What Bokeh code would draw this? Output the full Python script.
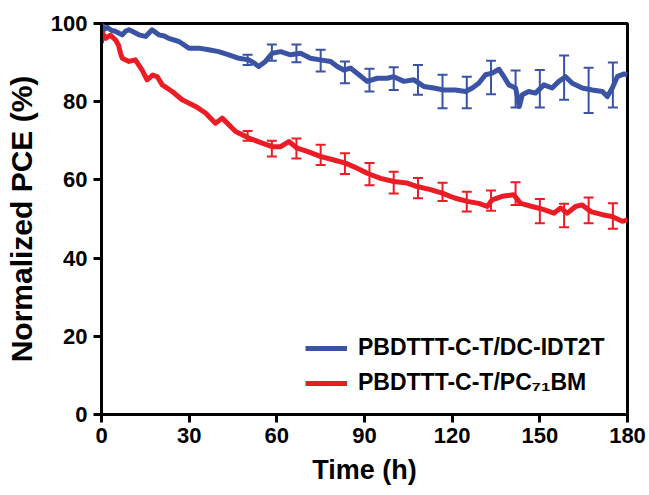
from bokeh.plotting import figure
from bokeh.models import ColumnDataSource, Whisker, TeeHead, Range1d, Legend, LegendItem
from bokeh.embed import file_html
from bokeh.resources import INLINE

# ---- data ----
blue_t = [0, 0.3, 0.8, 2, 3.5, 4.8, 6, 7.1, 8.2, 9.4,
          11, 12.8, 15.1, 17.3, 19.6, 21.5, 23, 26.5, 29.9, 33.3,
          36.7, 40.1, 43.6, 47, 50.4, 52, 53.8, 56.1, 58.4, 61.3,
          64.7, 68.1, 71.5, 74.9, 78.4, 80.7, 82.9, 85.2, 88.1, 90.9,
          94.4, 97.8, 100, 103.5, 106.9, 110.3, 113.7, 117.1, 121.1, 124.6,
          126.9, 129.1, 131.4, 133.7, 136, 137.7, 139.4, 141.7, 143, 144,
          146.2, 148.5, 151.4, 154.2, 156.5, 158.8, 161.1, 164.5, 167.9, 171.4,
          173.1, 174.8, 176.5, 178.8, 180]
blue_v = [95.0, 99.5, 98.4, 99.0, 98.2, 98.0, 97.5, 97.1, 98.0, 98.4,
          97.8, 97.1, 96.7, 98.4, 97.1, 96.8, 96.2, 95.4, 93.7, 93.7,
          93.3, 92.8, 92.0, 91.1, 90.7, 90.0, 89.0, 90.3, 92.4, 92.8,
          92.0, 92.4, 91.1, 90.7, 90.3, 89.0, 88.1, 88.6, 86.9, 85.2,
          86.0, 86.0, 86.4, 85.2, 85.6, 83.9, 83.5, 83.0, 83.0, 82.6,
          83.5, 84.7, 86.9, 87.3, 88.3, 86.4, 84.3, 83.5, 78.8, 81.8,
          82.6, 82.2, 84.3, 83.5, 85.2, 86.4, 84.7, 83.5, 83.0, 82.6,
          81.3, 83.5, 86.4, 87.1, 86.9]

red_t = [0, 1.4, 3, 4.8, 5.8, 6.5, 7.1, 9.4, 11.6, 13.9,
         15.6, 17.5, 19.1, 20.8, 24.2, 27.6, 32.2, 35.6, 39, 41.3,
         45.9, 50.4, 55, 58.4, 61.3, 64.1, 67, 70.4, 74.9, 79.5,
         83.5, 87.5, 90.9, 95.5, 100, 104.6, 108, 112.6, 116.6, 119.4,
         121.1, 125.2, 129.1, 132, 133.7, 137.1, 141.1, 143.4, 147.4, 151.4,
         154.8, 157.1, 159.4, 162.2, 164.5, 167.4, 171.4, 174.8, 178.2, 180]
red_v = [98.0, 96.2, 97.0, 95.8, 94.5, 92.4, 91.1, 90.3, 90.7, 88.1,
         85.6, 86.8, 86.4, 84.3, 82.6, 80.5, 78.8, 77.1, 74.5, 75.8,
         72.4, 70.7, 69.4, 68.5, 68.5, 69.8, 68.1, 67.3, 66.0, 65.1,
         64.3, 63.0, 61.7, 60.4, 59.6, 59.2, 58.3, 57.5, 56.6, 55.8,
         55.3, 54.5, 54.0, 53.2, 54.9, 55.8, 56.2, 54.0, 53.2, 52.4,
         51.5, 52.8, 51.5, 53.2, 53.6, 51.9, 51.1, 50.6, 49.4, 49.8]

err_t = [50, 58.3, 66.7, 75, 83.3, 91.7, 100, 108.3,
         116.7, 125, 133.3, 141.7, 150, 158.3, 166.7, 175]
blue_lo = [89.4, 90.5, 90.1, 87.7, 84.7, 82.6, 83.0, 81.8,
           78.3, 78.3, 81.9, 78.5, 78.5, 80.5, 77.1, 78.5]
blue_hi = [92.0, 94.6, 94.6, 93.3, 90.3, 88.4, 88.8, 89.4,
           86.9, 86.4, 90.5, 88.0, 88.1, 91.8, 88.7, 90.0]
red_lo = [70.0, 66.0, 65.5, 63.8, 61.5, 58.6, 56.5, 55.3,
          54.6, 51.9, 52.1, 53.6, 48.9, 47.9, 48.9, 47.5]
red_hi = [72.5, 70.0, 70.6, 69.0, 66.8, 64.3, 62.1, 60.5,
          59.3, 57.0, 57.3, 59.4, 55.1, 53.9, 55.5, 54.0]

x_ticks = [0, 30, 60, 90, 120, 150, 180]
y_ticks = [0, 20, 40, 60, 80, 100]

BLUE = "#3a53a4"
RED = "#ec1c24"
FONT = "Liberation Sans, Arial, sans-serif"

p = figure(width=649, height=495, output_backend="svg", toolbar_location=None,
           x_range=Range1d(0, 180), y_range=Range1d(0, 100),
           min_border_left=101, min_border_right=22, min_border_top=23, min_border_bottom=81)
p.background_fill_color = "white"
p.border_fill_color = "white"
p.grid.visible = False
p.outline_line_color = "black"
p.outline_line_width = 3
p.outline_line_alpha = 1

for ax in (p.xaxis[0], p.yaxis[0]):
    ax.axis_line_width = 3
    ax.major_tick_line_width = 3
    ax.minor_tick_line_width = 2
    ax.major_tick_out = 8
    ax.major_tick_in = 0
    ax.minor_tick_out = 5
    ax.minor_tick_in = 0
    ax.major_label_text_font = FONT
    ax.major_label_text_font_style = "bold"
    ax.major_label_text_font_size = "22px"
    ax.major_label_text_color = "black"
    ax.axis_label_text_font = FONT
    ax.axis_label_text_font_style = "bold"
    ax.axis_label_text_color = "black"

p.xaxis.ticker = x_ticks
p.yaxis.ticker = y_ticks
p.xaxis[0].ticker.num_minor_ticks = 2
p.yaxis[0].ticker.num_minor_ticks = 2
p.xaxis.axis_label = "Time (h)"
p.yaxis.axis_label = "Normalized PCE (%)"
p.xaxis.axis_label_text_font_size = "27px"
p.yaxis.axis_label_text_font_size = "30px"
p.xaxis.major_label_standoff = 5
p.yaxis.major_label_standoff = 6
p.xaxis.axis_label_standoff = 9
p.yaxis.axis_label_standoff = 10

bsrc = ColumnDataSource(dict(t=blue_t, v=blue_v))
rsrc = ColumnDataSource(dict(t=red_t, v=red_v))
esrc = ColumnDataSource(dict(t=err_t, blo=blue_lo, bhi=blue_hi, rlo=red_lo, rhi=red_hi))

for lo, hi, col in (("blo", "bhi", BLUE), ("rlo", "rhi", RED)):
    w = Whisker(source=esrc, base="t", lower=lo, upper=hi, line_color=col, line_width=2,
                upper_head=TeeHead(size=10, line_color=col, line_width=2),
                lower_head=TeeHead(size=10, line_color=col, line_width=2))
    p.add_layout(w)

lb = p.line("t", "v", source=bsrc, line_color=BLUE, line_width=5, line_join="round")
lr = p.line("t", "v", source=rsrc, line_color=RED, line_width=5, line_join="round")

legend = Legend(items=[LegendItem(label="PBDTTT-C-T/DC-IDT2T", renderers=[lb]),
                       LegendItem(label="PBDTTT-C-T/PC\u2087\u2081BM", renderers=[lr])],
                location=(204, 18))
legend.background_fill_alpha = 0
legend.border_line_alpha = 0
legend.label_text_font = FONT
legend.label_text_font_style = "bold"
legend.label_text_font_size = "23px"
legend.label_text_color = "black"
legend.glyph_width = 42
legend.glyph_height = 22
legend.label_standoff = 11
legend.spacing = 8
legend.padding = 0
legend.margin = 0
p.add_layout(legend)

open("out.html", "w").write(file_html(p, INLINE))
